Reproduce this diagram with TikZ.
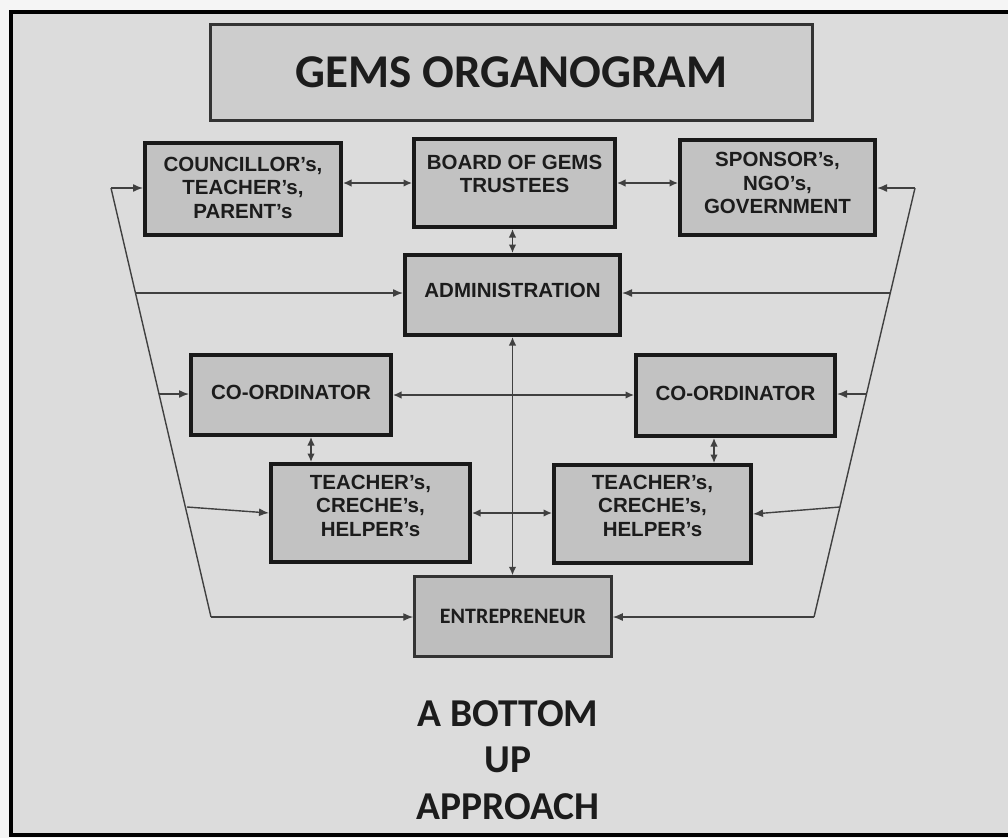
\documentclass[tikz,border=0pt]{standalone}
\usepackage{fontspec}
\setmainfont{Liberation Sans}
\newfontfamily\calfont{Carlito}
\usetikzlibrary{arrows.meta}
\definecolor{bg}{HTML}{DCDCDC}
\definecolor{boxfill}{HTML}{C2C2C2}
\definecolor{titlefill}{HTML}{CDCDCD}
\definecolor{entfill}{HTML}{BEBEBE}
\definecolor{linecol}{HTML}{404040}
\definecolor{txt}{HTML}{1C1C1C}
\newcommand\bt[2]{\raisebox{#1}[0pt][0pt]{\begin{tabular}{@{}c@{}}#2\end{tabular}}}
\begin{document}
\begin{tikzpicture}[x=1pt,y=-1pt,
 orgbox/.style={draw=black!90, line width=4pt, fill=boxfill, inner sep=0pt, text=txt,
   font=\fontsize{20.5}{23.5}\selectfont\bfseries},
 thinbox/.style={draw=black!80, line width=2.5pt, inner sep=0pt, text=txt},
 conn/.style={draw=linecol, line width=1.4pt},
 arr/.style={conn, -{Latex[length=10pt,width=8pt]}},
 darr/.style={conn, {Latex[length=8.5pt,width=7.5pt]}-{Latex[length=8.5pt,width=7.5pt]}},
]
\useasboundingbox (0,0) rectangle (1008,838);
\fill[black!4] (0,0) rectangle (1008,838);
\draw[line width=4pt, fill=bg] (10.5,12) rectangle (1030,834.5);

% title
\node[thinbox, fill=titlefill, minimum width=602pt, minimum height=96pt,
  font=\calfont\bfseries\fontsize{47}{50}\selectfont] (title) at (511.5,72.5) {GEMS ORGANOGRAM};

% boxes
\node[orgbox, minimum width=196pt, minimum height=92pt] (coun) at (243,189)
  {\bt{-6pt}{COUNCILLOR's,\\TEACHER's,\\PARENT's}};
\node[orgbox, minimum width=201pt, minimum height=88pt] (board) at (514.5,183)
  {\bt{1.5pt}{BOARD OF GEMS\\TRUSTEES}};
\node[orgbox, minimum width=195pt, minimum height=95pt] (spons) at (777.5,187.5)
  {\bt{-3pt}{SPONSOR's,\\NGO's,\\GOVERNMENT}};
\node[orgbox, minimum width=215pt, minimum height=80pt] (admin) at (512.5,295)
  {\bt{-3pt}{ADMINISTRATION}};
\node[orgbox, minimum width=200pt, minimum height=80pt] (coordL) at (291,395)
  {\bt{-5pt}{CO-ORDINATOR}};
\node[orgbox, minimum width=199pt, minimum height=81pt] (coordR) at (735.5,395.5)
  {\bt{-5pt}{CO-ORDINATOR}};
\node[orgbox, minimum width=199pt, minimum height=98pt] (teachL) at (370.5,513)
  {\bt{0pt}{TEACHER's,\\CRECHE's,\\HELPER's}};
\node[orgbox, minimum width=197pt, minimum height=98pt] (teachR) at (652.5,514)
  {\bt{1pt}{TEACHER's,\\CRECHE's,\\HELPER's}};
\node[thinbox, fill=entfill, minimum width=197pt, minimum height=80pt,
  font=\calfont\bfseries\fontsize{22}{24}\selectfont] (entre) at (513,616.5) {ENTREPRENEUR};

% motto
\node[text=txt, align=center, inner sep=0pt,
  font=\calfont\bfseries\fontsize{39.5}{46.5}\selectfont] (motto) at (508,760)
  {A BOTTOM\\UP\\APPROACH};

% side rails
\coordinate (L1) at (111,188);
\coordinate (L2) at (135.5,293);
\coordinate (L3) at (159,394);
\coordinate (L4) at (187,507);
\coordinate (L5) at (211,617);
\coordinate (R1) at (915,188);
\coordinate (R2) at (890,293);
\coordinate (R3) at (867,394);
\coordinate (R4) at (840,507);
\coordinate (R5) at (814,617);
\draw[conn] (L1) -- (L5);
\draw[conn] (R1) -- (R5);

\draw[arr] (L1) -- (L1 -| coun.west);
\draw[arr] (L2) -- (L2 -| admin.west);
\draw[arr] (L3) -- (L3 -| coordL.west);
\draw[arr] (L4) -- (teachL.west);
\draw[arr] (L5) -- (L5 -| entre.west);

\draw[arr] (R1) -- (R1 -| spons.east);
\draw[arr] (R2) -- (R2 -| admin.east);
\draw[arr] (R3) -- (R3 -| coordR.east);
\draw[arr] (R4) -- (teachR.east);
\draw[arr] (R5) -- (R5 -| entre.east);

% inner double arrows
\draw[darr] (coun.east |- board.west) -- (board.west);
\draw[darr] (board.east) -- (board.east -| spons.west);
\draw[darr] (admin.north |- board.south) -- (admin.north);
\draw[darr] (admin.south) -- (admin.south |- entre.north);
\draw[darr] (coordL.east) -- (coordL.east -| coordR.west);
\draw[darr] (teachL.east) -- (teachL.east -| teachR.west);
\draw[darr] ([xshift=20pt]coordL.south) -- ([xshift=20pt]coordL.south |- teachL.north);
\draw[darr] ([xshift=-21.5pt]coordR.south) -- ([xshift=-21.5pt]coordR.south |- teachR.north);
\end{tikzpicture}
\end{document}
